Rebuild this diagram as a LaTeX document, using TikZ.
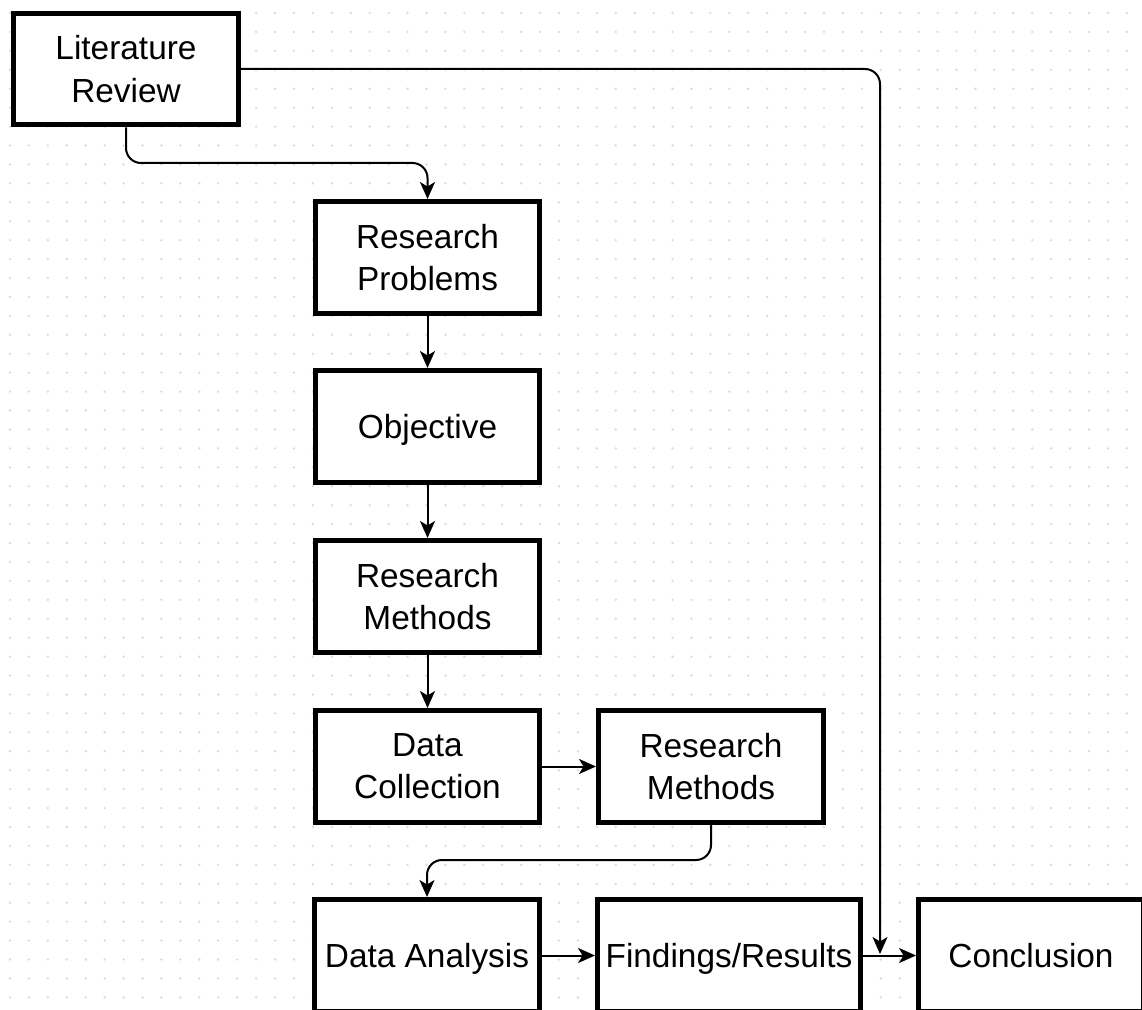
\documentclass[tikz,border=0pt]{standalone}
\usepackage{fontspec}
\setmainfont{Liberation Sans}
\usetikzlibrary{arrows.meta}

\begin{document}
\begin{tikzpicture}[
    x=0.02cm, y=-0.02cm,
    stage/.style={draw=black,fill=white,line width=0.1cm,inner sep=0pt,
      minimum width=4.5cm,minimum height=2.24cm,align=center,
      font=\fontsize{19}{24}\selectfont},
    oneline/.style={text height=0.56cm,text depth=0.08cm},
    link/.style={line width=0.04cm,rounded corners=0.3cm,
      -{Stealth[length=0.34cm,width=0.3cm,inset=0.09cm]}},
    ]
  \def\gap{18.93}

  \useasboundingbox (0,0) rectangle (1142,1010);
  \clip (0,0) rectangle (1142,1010);
  \fill[white] (0,0) rectangle (1142,1010);
  \foreach \i in {0,...,60}
    \foreach \j in {0,...,53}
      \fill[black!14] (10+\i*\gap,13+\j*\gap) circle (0.75pt);

  \node[stage] (lit) at (126,69) {Literature\\Review};
  \node[stage] (prob) at (427.5,257.5) {Research\\Problems};
  \node[stage,oneline] (obj) at (427.5,426.5) {Objective};
  \node[stage] (meth) at (427.5,596.5) {Research\\Methods};
  \node[stage] (coll) at (427.5,766.5) {Data\\Collection};
  \node[stage] (meth2) at (711,766.5) {Research\\Methods};
  \node[stage,oneline] (ana) at (427,955.5) {Data Analysis};
  \node[stage,oneline,minimum width=5.26cm] (find) at (729,955.5) {Findings/Results};
  \node[stage,oneline] (concl) at (1031,955.5) {Conclusion};

  \coordinate (bend1) at (427.5,163);
  \coordinate (bend2) at (427,860);
  \coordinate (join) at (880,954);

  \draw[link] (lit.south) |- (bend1) -- (prob.north);
  \draw[link] (lit.east) -| (join);
  \draw[link] (prob.south) -- (obj.north);
  \draw[link] (obj.south) -- (meth.north);
  \draw[link] (meth.south) -- (coll.north);
  \draw[link] (coll.east) -- (meth2.west);
  \draw[link] (meth2.south) |- (bend2) -- (ana.north);
  \draw[link] (ana.east) -- (find.west);
  \draw[link] (find.east) -- (concl.west);
\end{tikzpicture}
\end{document}
